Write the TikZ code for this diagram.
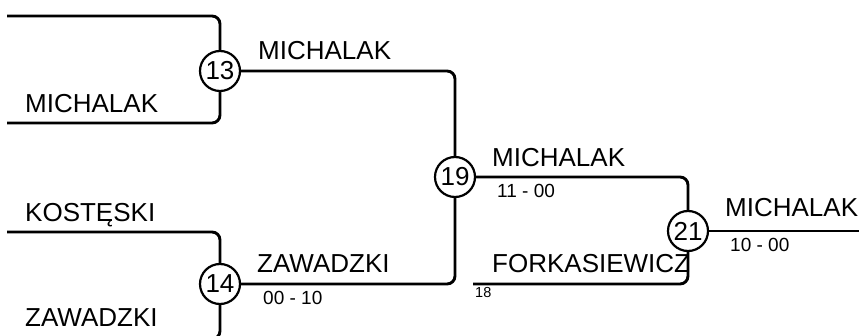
\documentclass[tikz,border=0pt]{standalone}
\usepackage{fontspec}
\setmainfont{Liberation Sans}
\usetikzlibrary{positioning}
\tikzset{
    game/.style={
        circle, draw=black, fill=white, line width=2.2pt,
        minimum size=40pt, inner sep=0pt,
        font=\fontsize{26}{26}\selectfont
    },
    player/.style={
        anchor=base west, inner sep=0pt,
        font=\fontsize{26}{26}\selectfont
    },
    score/.style={
        anchor=base west, inner sep=0pt,
        font=\fontsize{19}{19}\selectfont
    },
    seed/.style={
        anchor=base west, inner sep=0pt,
        font=\fontsize{14.5}{14.5}\selectfont
    },
    bracket/.style={line width=2.9pt, draw=black, rounded corners=8pt}
}
\begin{document}
\begin{tikzpicture}[x=1pt, y=-1pt]
    \useasboundingbox (0,0) rectangle (859,336);

    % free ends of the bracket
    \coordinate (a13) at (7,16);
    \coordinate (b13) at (7,123);
    \coordinate (a14) at (7,232);
    \coordinate (b14) at (7,339);
    \coordinate (b21) at (473,284);
    \coordinate (win) at (862,231);

    % games
    \node[game] (m13) at (220,71) {13};
    \node[game] (m14) at (220,284) {14};
    \node[game] (m19) at (455,177) {19};
    \node[game] (m21) at (688,231) {21};

    \draw[bracket] (a13) -| (m13);
    \draw[bracket] (b13) -| (m13);
    \draw[bracket] (a14) -| (m14);
    \draw[bracket] (b14) -| (m14);
    \draw[bracket] (m13) -| (m19);
    \draw[bracket] (m14) -| (m19);
    \draw[bracket] (m19) -| (m21);
    \draw[bracket] (b21) -| (m21);
    \draw[bracket] (m21) -- (win);

    % names
    \node[player] (p13b) at (25,113) {MICHALAK};
    \node[player] (p14a) at (25,222) {KOSTĘSKI};
    \node[player] (p14b) at (25,327) {ZAWADZKI};
    \node[player] (w13) at (258,60) {MICHALAK};
    \node[player] (w14) at (257,273) {ZAWADZKI};
    \node[player] (w19) at (492,167) {MICHALAK};
    \node[player] (p21b) at (492,273) {FORKASIEWICZ};
    \node[player] (w21) at (725,217) {MICHALAK};

    % scores
    \node[score] (s14) at (263,305) {00 - 10};
    \node[score] (s19) at (497,198) {11 - 00};
    \node[score] (s21) at (730,252) {10 - 00};
    \node[seed] (n18) at (475,298) {18};
\end{tikzpicture}
\end{document}
